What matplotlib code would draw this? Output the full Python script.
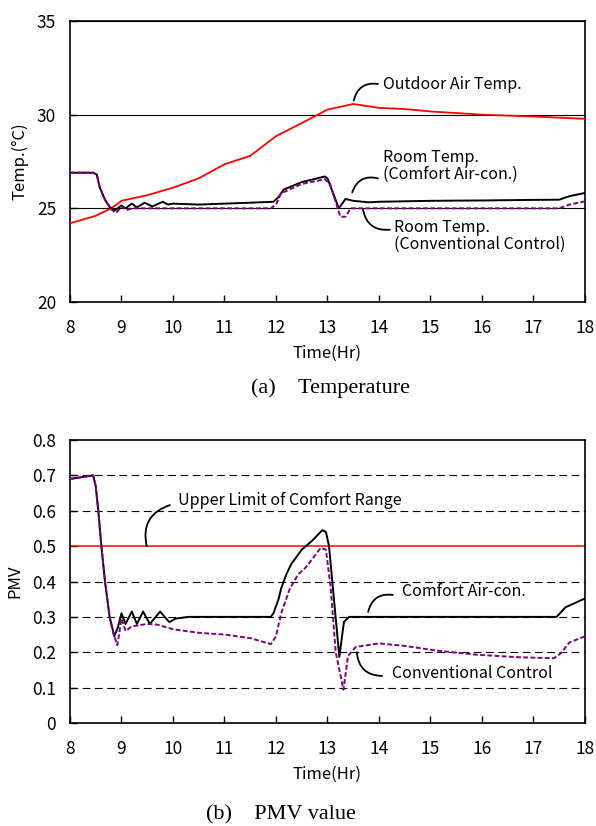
import matplotlib
matplotlib.use('Agg')
import matplotlib.pyplot as plt

# outdoor air temperature
out_t = [8, 8.5, 8.8, 9, 9.5, 10, 10.5, 11, 11.5, 12, 12.5, 13, 13.5, 14, 14.5, 15, 16, 17, 18]
out_v = [24.2, 24.6, 25.0, 25.4, 25.7, 26.1, 26.6, 27.35, 27.8, 28.85, 29.55, 30.27, 30.57, 30.36, 30.3,
         30.17, 30.0, 29.9, 29.78]

# room temperature, comfort air-con
rc_t = [8, 8.45, 8.52, 8.58, 8.68, 8.77, 8.88, 9.0, 9.08, 9.2, 9.3, 9.45, 9.6, 9.8, 9.9, 10, 10.5, 11, 11.5,
        11.95, 12.05, 12.15, 12.5, 12.95, 13.0, 13.22, 13.35, 13.5, 13.8, 14, 15, 16, 17, 17.5, 17.7, 18]
rc_v = [26.9, 26.9, 26.8, 26.1, 25.46, 25.07, 24.9, 25.15, 25.0, 25.25, 25.05, 25.3, 25.1, 25.35, 25.2, 25.25,
        25.2, 25.25, 25.3, 25.35, 25.6, 26.0, 26.4, 26.7, 26.6, 25.0, 25.5, 25.4, 25.32, 25.35, 25.4, 25.42,
        25.45, 25.46, 25.65, 25.82]

# room temperature, conventional control
rv_t = [8, 8.45, 8.52, 8.58, 8.68, 8.8, 8.9, 9.0, 9.1, 9.2, 11.9, 12.0, 12.1, 12.5, 12.95, 13.05, 13.25,
        13.35, 13.45, 14, 17.5, 17.7, 18]
rv_v = [26.9, 26.9, 26.8, 26.1, 25.46, 24.95, 24.75, 25.1, 24.9, 25.0, 25.0, 25.2, 25.8, 26.3, 26.55, 26.3,
        24.55, 24.55, 25.0, 25.0, 25.0, 25.2, 25.37]

# PMV, comfort air-con
pc_t = [8, 8.45, 8.5, 8.55, 8.61, 8.68, 8.77, 8.86, 8.93, 9.0, 9.08, 9.2, 9.3, 9.42, 9.55, 9.75, 9.93, 10.05,
        10.3, 11.9, 11.95, 12.05, 12.1, 12.2, 12.3, 12.5, 12.7, 12.9, 12.97, 13.03, 13.23, 13.32, 13.42,
        17.45, 17.62, 18]
pc_v = [0.69, 0.70, 0.67, 0.6, 0.5, 0.4, 0.3, 0.245, 0.27, 0.31, 0.28, 0.315, 0.28, 0.315, 0.28, 0.315, 0.285,
        0.295, 0.30, 0.30, 0.31, 0.35, 0.38, 0.42, 0.45, 0.49, 0.515, 0.545, 0.54, 0.50, 0.187, 0.286, 0.30,
        0.30, 0.327, 0.352]

# PMV, conventional control
pv_t = [8, 8.45, 8.5, 8.55, 8.61, 8.68, 8.77, 8.85, 8.92, 9.0, 9.08, 9.2, 9.5, 9.7, 10, 10.5, 11, 11.5, 11.9,
        12.0, 12.1, 12.27, 12.43, 12.58, 12.87, 12.97, 13.06, 13.16, 13.31, 13.4, 13.55, 14.0, 14.5, 15.1,
        15.9, 16.7, 17.4, 17.53, 17.7, 18]
pv_v = [0.69, 0.70, 0.67, 0.6, 0.5, 0.4, 0.3, 0.25, 0.22, 0.295, 0.26, 0.273, 0.28, 0.278, 0.265, 0.255, 0.25,
        0.24, 0.223, 0.245, 0.31, 0.38, 0.42, 0.44, 0.495, 0.49, 0.386, 0.2, 0.094, 0.19, 0.215, 0.225, 0.218,
        0.205, 0.193, 0.186, 0.183, 0.197, 0.228, 0.245]

hours = list(range(8, 19))
temp_ticks = [20, 25, 30, 35]
pmv_ticks = [0, 0.1, 0.2, 0.3, 0.4, 0.5, 0.6, 0.7, 0.8]
pmv_labels = ['0', '0.1', '0.2', '0.3', '0.4', '0.5', '0.6', '0.7', '0.8']

plt.rcParams['font.family'] = ['Noto Sans CJK JP', 'DejaVu Sans']
serif = ['Liberation Serif', 'Noto Sans CJK JP']
purple = '#800080'

fig = plt.figure(figsize=(5.96, 8.26), dpi=100)
ax1 = fig.add_axes([0.1174, 0.6344, 0.8641, 0.3402])
ax2 = fig.add_axes([0.1174, 0.1247, 0.8641, 0.3426])


def style(ax):
    for s in ax.spines.values():
        s.set_linewidth(1.2)
        s.set_color('black')
    ax.set_xlim(8, 18)
    ax.set_xticks(hours)
    ax.tick_params(direction='in', length=5, width=1, labelsize=12.5)
    ax.tick_params(axis='x', pad=12)
    ax.tick_params(axis='y', pad=10)
    ax.set_xlabel('Time(Hr)', fontsize=12, labelpad=6)


# ---- (a) temperature ----
for y in temp_ticks:
    ax1.axhline(y, color='black', lw=0.8, zorder=1)
ax1.plot(out_t, out_v, color='red', lw=1.3, zorder=3)
ax1.plot(rc_t, rc_v, color='black', lw=1.4, zorder=3)
ax1.plot(rv_t, rv_v, color=purple, lw=1.4, ls=(0, (2.5, 1.2)), zorder=4)
ax1.set_ylim(20, 35)
ax1.set_yticks(temp_ticks)
ax1.set_ylabel('Temp.(°C)', fontsize=12, labelpad=6)
style(ax1)

lead = dict(arrowstyle='-', color='black', lw=1.3, shrinkA=0, shrinkB=0)
fs = 11.5
ax1.annotate('', xy=(13.51, 30.75), xytext=(13.98, 31.64),
             arrowprops=dict(lead, connectionstyle='arc3,rad=0.45'))
ax1.text(14.07, 31.6, 'Outdoor Air Temp.', fontsize=fs, va='center')
ax1.annotate('', xy=(13.48, 25.85), xytext=(13.98, 26.6),
             arrowprops=dict(lead, connectionstyle='arc3,rad=0.45'))
ax1.text(14.07, 27.28, 'Room Temp.\n(Comfort Air-con.)', fontsize=fs, va='center', linespacing=1.0)
ax1.annotate('', xy=(13.69, 24.93), xytext=(14.21, 23.86),
             arrowprops=dict(lead, connectionstyle='arc3,rad=-0.45'))
ax1.text(14.29, 23.54, 'Room Temp.\n(Conventional Control)', fontsize=fs, va='center', linespacing=1.0)

# ---- (b) PMV ----
for y in pmv_ticks[1:-1]:
    if y != 0.5:
        ax2.axhline(y, color='black', lw=0.8, ls=(0, (7, 4)), zorder=1)
ax2.axhline(0.5, color='red', lw=1.1, zorder=2)
ax2.plot(pc_t, pc_v, color='black', lw=1.4, zorder=3)
ax2.plot(pv_t, pv_v, color=purple, lw=1.4, ls=(0, (2.5, 1.2)), zorder=4)
ax2.set_ylim(0, 0.8)
ax2.set_yticks(pmv_ticks)
ax2.set_yticklabels(pmv_labels)
ax2.set_ylabel('PMV', fontsize=12, labelpad=6)
style(ax2)

ax2.annotate('', xy=(9.49, 0.5), xytext=(9.94, 0.616),
             arrowprops=dict(lead, connectionstyle='arc3,rad=0.45'))
ax2.text(10.1, 0.63, 'Upper Limit of Comfort Range', fontsize=fs, va='center')
ax2.annotate('', xy=(13.79, 0.314), xytext=(14.27, 0.362),
             arrowprops=dict(lead, connectionstyle='arc3,rad=0.45'))
ax2.text(14.45, 0.373, 'Comfort Air-con.', fontsize=fs, va='center')
ax2.annotate('', xy=(13.57, 0.2), xytext=(14.06, 0.133),
             arrowprops=dict(lead, connectionstyle='arc3,rad=-0.45'))
ax2.text(14.25, 0.141, 'Conventional Control', fontsize=fs, va='center')

fig.text(331 / 596, 1 - 388 / 826, '(a)\u3000Temperature', family=serif, fontsize=16, ha='center', va='center')
fig.text(281 / 596, 1 - 815 / 826, '(b)\u3000PMV value', family=serif, fontsize=16, ha='center', va='center')

fig.savefig('out.png', dpi=100)
